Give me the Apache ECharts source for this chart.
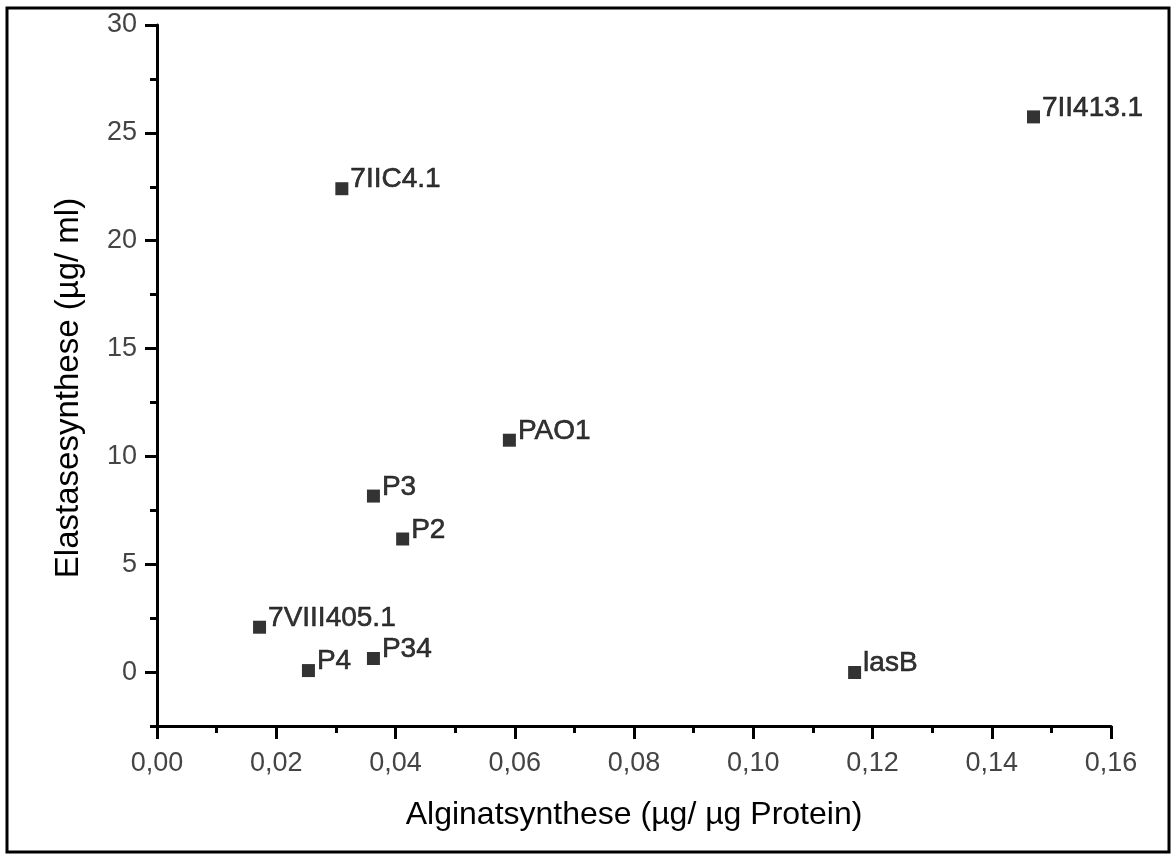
<!DOCTYPE html>
<html>
<head>
<meta charset="utf-8">
<title>Alginat- und Elastasesynthese</title>
<script src="https://cdn.jsdelivr.net/npm/echarts@6/dist/echarts.min.js"></script>
<style>
  html, body { margin: 0; padding: 0; background: #fff; }
  #chart { width: 1176px; height: 860px; }
</style>
</head>
<body>
<div id="chart"></div>
<script>
// Strains and their measured synthesis values
const strains = ['7II413.1', '7IIC4.1', 'PAO1', 'P3', 'P2', '7VIII405.1', 'P4', 'P34', 'lasB'];
const alginate = [0.1470, 0.0310, 0.0591, 0.0363, 0.0412, 0.0172, 0.0254, 0.0363, 0.1170]; // µg/µg Protein
const elastase = [25.74, 22.41, 10.75, 8.16, 6.17, 2.08, 0.07, 0.63, -0.02];           // µg/ml

// Axis ticks
const xMajorTicks = [0, 0.02, 0.04, 0.06, 0.08, 0.10, 0.12, 0.14, 0.16];
const xMinorTicks = [0.01, 0.03, 0.05, 0.07, 0.09, 0.11, 0.13, 0.15];
const yMajorTicks = [0, 5, 10, 15, 20, 25, 30];
const yMinorTicks = [-2.5, 2.5, 7.5, 12.5, 17.5, 22.5, 27.5];

const xTitle = 'Alginatsynthese (µg/ µg Protein)';
const yTitle = 'Elastasesynthese (µg/ ml)';

const FONT = 'Arial, "Liberation Sans", Helvetica, sans-serif';

const points = strains.map((name, i) => ({ name, value: [alginate[i], elastase[i]] }));

const chart = echarts.init(document.getElementById('chart'), null, { renderer: 'canvas' });

const xRange = { min: 0, max: 0.16 };
const yRange = { min: -2.5, max: 30 };
const axisStroke = { color: '#000', width: 3 };

chart.setOption({
  animation: false,
  backgroundColor: '#fff',
  grid: { left: 157, right: 65, top: 25, bottom: 134, containLabel: false },
  xAxis: [
    {
      type: 'value', ...xRange,
      axisLine: { show: true, onZero: false, lineStyle: axisStroke },
      axisTick: { show: true, customValues: xMajorTicks, length: 13, lineStyle: axisStroke },
      axisLabel: {
        customValues: xMajorTicks, margin: 24,
        fontFamily: FONT, fontSize: 27, color: '#444',
        formatter: v => v.toFixed(2).replace('.', ',')
      },
      splitLine: { show: false }
    },
    {
      type: 'value', ...xRange, position: 'bottom',
      axisLine: { show: false, onZero: false },
      axisTick: { show: true, customValues: xMinorTicks, length: 7, lineStyle: axisStroke },
      axisLabel: { show: false },
      splitLine: { show: false }
    }
  ],
  yAxis: [
    {
      type: 'value', ...yRange,
      axisLine: { show: true, onZero: false, lineStyle: axisStroke },
      axisTick: { show: true, customValues: yMajorTicks, length: 12, lineStyle: axisStroke },
      axisLabel: {
        customValues: yMajorTicks, margin: 20,
        fontFamily: FONT, fontSize: 27, color: '#444',
        formatter: v => String(v)
      },
      splitLine: { show: false }
    },
    {
      type: 'value', ...yRange, position: 'left',
      axisLine: { show: false, onZero: false },
      axisTick: { show: true, customValues: yMinorTicks, length: 7, lineStyle: axisStroke },
      axisLabel: { show: false },
      splitLine: { show: false }
    }
  ],
  series: [{
    type: 'scatter',
    xAxisIndex: 0,
    yAxisIndex: 0,
    symbol: 'rect',
    symbolSize: 13,
    itemStyle: { color: '#000' },
    data: points,
    label: {
      show: true,
      position: 'right',
      distance: 2,
      offset: [0, -9],
      formatter: p => p.name,
      fontFamily: FONT,
      fontSize: 28,
      color: '#000',
      textBorderColor: '#000',
      textBorderWidth: 0.6
    }
  }],
  graphic: [
    {
      type: 'rect', silent: true,
      shape: { x: 7, y: 8, width: 1162, height: 844 },
      style: { fill: 'none', stroke: '#000', lineWidth: 3 }
    },
    {
      type: 'text', silent: true, x: 634, y: 815,
      style: { text: xTitle, font: '32px ' + FONT, fill: '#000', textAlign: 'center', textVerticalAlign: 'middle' }
    },
    {
      type: 'text', silent: true, x: 69, y: 388, rotation: Math.PI / 2,
      style: { text: yTitle, font: '33px ' + FONT, fill: '#000', textAlign: 'center', textVerticalAlign: 'middle' }
    }
  ]
});
</script>
</body>
</html>
